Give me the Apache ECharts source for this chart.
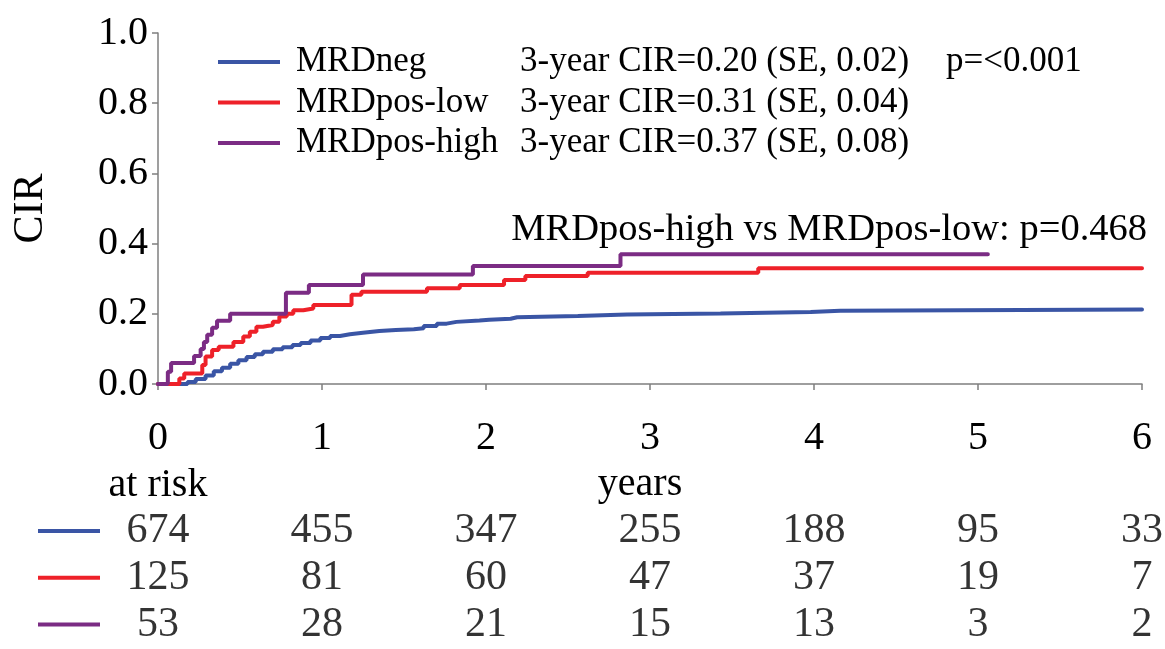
<!DOCTYPE html>
<html>
<head>
<meta charset="utf-8">
<script src="https://cdn.jsdelivr.net/npm/echarts@6/dist/echarts.min.js"></script>
<style>
  html, body { margin: 0; padding: 0; background: #ffffff; }
  #main { width: 1165px; height: 649px; }
</style>
</head>
<body>
<div id="main"></div>
<script>
// Cumulative incidence of relapse by MRD group (step curves: time in years, CIR after each event)
const groupNames = ['MRDneg', 'MRDpos-low', 'MRDpos-high'];
const groupColors = ['#3a55a5', '#ee2129', '#7b2c84'];
const summaryTexts = ['3-year CIR=0.20 (SE, 0.02)', '3-year CIR=0.31 (SE, 0.04)', '3-year CIR=0.37 (SE, 0.08)'];
const overallP = 'p=<0.001';
const pairwiseNote = 'MRDpos-high vs MRDpos-low: p=0.468';

const negTimes = [0, 0.13, 0.18, 0.23, 0.29, 0.34, 0.39, 0.44, 0.49, 0.54, 0.59, 0.64, 0.70, 0.76, 0.82, 0.87, 0.93, 0.99, 1.05, 1.11, 1.17, 1.25, 1.35, 1.45, 1.56, 1.62, 1.70, 1.76, 1.82, 1.96, 2.02, 2.15, 2.19, 2.56, 2.86, 3.43, 3.98, 4.16, 6.0];
const negCIR   = [0, 0, 0.006, 0.014, 0.024, 0.036, 0.046, 0.058, 0.068, 0.077, 0.085, 0.092, 0.099, 0.105, 0.111, 0.117, 0.124, 0.131, 0.137, 0.142, 0.146, 0.151, 0.154, 0.156, 0.159, 0.165, 0.172, 0.177, 0.181, 0.183, 0.186, 0.190, 0.194, 0.198, 0.201, 0.205, 0.209, 0.212, 0.212];

const lowTimes = [0, 0.13, 0.16, 0.27, 0.29, 0.33, 0.37, 0.46, 0.52, 0.56, 0.60, 0.64, 0.70, 0.74, 0.785, 0.825, 0.886, 0.947, 1.18, 1.24, 1.64, 1.84, 2.11, 2.24, 2.62, 3.66, 6.0];
const lowCIR   = [0, 0.016, 0.030, 0.054, 0.078, 0.097, 0.106, 0.120, 0.135, 0.149, 0.163, 0.168, 0.177, 0.192, 0.200, 0.210, 0.215, 0.225, 0.254, 0.263, 0.273, 0.282, 0.296, 0.308, 0.317, 0.330, 0.330];

const highTimes = [0, 0.06, 0.08, 0.22, 0.26, 0.28, 0.30, 0.33, 0.36, 0.44, 0.78, 0.92, 1.25, 1.92, 2.82, 5.06];
const highCIR   = [0, 0.035, 0.060, 0.080, 0.100, 0.120, 0.140, 0.160, 0.180, 0.200, 0.260, 0.282, 0.312, 0.336, 0.370, 0.370];

// Numbers at risk
const riskTimes = [0, 1, 2, 3, 4, 5, 6];
const riskNeg  = [674, 455, 347, 255, 188, 95, 33];
const riskLow  = [125, 81, 60, 47, 37, 19, 7];
const riskHigh = [53, 28, 21, 15, 13, 3, 2];

const xTicks = [0, 1, 2, 3, 4, 5, 6];
const yTicks = [0.0, 0.2, 0.4, 0.6, 0.8, 1.0];

const FONT = "'Liberation Serif', 'Times New Roman', serif";
const AXIS_GRAY = '#7f7f7f';

const curves = [
  [negTimes, negCIR],
  [lowTimes, lowCIR],
  [highTimes, highCIR]
];
const riskRows = [riskNeg, riskLow, riskHigh];

const lineSeries = curves.map(([t, v], i) => ({
  name: groupNames[i],
  type: 'line',
  xAxisIndex: 0,
  yAxisIndex: 0,
  step: 'end',
  showSymbol: false,
  symbol: 'none',
  data: t.map((x, k) => [x, v[k]]),
  lineStyle: { color: groupColors[i], width: 4, cap: 'round' },
  itemStyle: { color: groupColors[i] },
  z: 3 + i
}));

const riskSeries = riskRows.map((row, r) => ({
  name: 'risk-' + r,
  type: 'scatter',
  xAxisIndex: 1,
  yAxisIndex: 1,
  symbol: 'circle',
  symbolSize: 1,
  itemStyle: { color: 'rgba(0,0,0,0)' },
  data: riskTimes.map((t, k) => [t, r, row[k]]),
  label: {
    show: true,
    position: 'inside',
    formatter: p => String(p.value[2]),
    fontSize: 42,
    fontFamily: FONT,
    color: '#000'
  },
  silent: true
}));

const richToken = extra => Object.assign({ fontSize: 35, fontFamily: FONT, color: '#000', lineHeight: 38 }, extra);

const option = {
  animation: false,
  backgroundColor: '#ffffff',
  grid: [
    { left: 158, right: 23, top: 33, bottom: 265 },
    { left: 158, right: 23, top: 508, bottom: 1 }
  ],
  xAxis: [
    {
      gridIndex: 0,
      type: 'value',
      min: xTicks[0],
      max: xTicks[xTicks.length - 1],
      interval: 1,
      axisLine: { show: true, lineStyle: { color: AXIS_GRAY, width: 1.5 } },
      axisTick: { show: true, length: 6, lineStyle: { color: AXIS_GRAY, width: 1.5 } },
      splitLine: { show: false },
      axisLabel: { fontSize: 40, fontFamily: FONT, color: '#000', margin: 34 },
      name: 'years',
      nameLocation: 'middle',
      nameGap: 80,
      nameTextStyle: { fontSize: 40, fontFamily: FONT, color: '#000', padding: [0, 20, 0, 0] }
    },
    { gridIndex: 1, type: 'value', min: 0, max: 6, show: false }
  ],
  yAxis: [
    {
      gridIndex: 0,
      type: 'value',
      min: yTicks[0],
      max: yTicks[yTicks.length - 1],
      interval: 0.2,
      axisLine: { show: true, lineStyle: { color: AXIS_GRAY, width: 1.5 } },
      axisTick: { show: true, length: 6, lineStyle: { color: AXIS_GRAY, width: 1.5 } },
      splitLine: { show: false },
      axisLabel: { fontSize: 40, fontFamily: FONT, color: '#000', margin: 10, formatter: v => v.toFixed(1) },
      name: 'CIR',
      nameLocation: 'middle',
      nameRotate: 90,
      nameGap: 106,
      nameTextStyle: { fontSize: 42, fontFamily: FONT, color: '#000' }
    },
    { gridIndex: 1, type: 'category', data: [0, 1, 2], inverse: true, show: false }
  ],
  legend: {
    orient: 'vertical',
    left: 218,
    top: 43,
    padding: 0,
    itemWidth: 62,
    itemHeight: 4,
    itemGap: 2.5,
    icon: 'rect',
    selectedMode: false,
    data: groupNames,
    formatter: name => {
      const i = groupNames.indexOf(name);
      const p = i === 0 ? '{p|' + overallP + '}' : '';
      return '{n|' + name + '}{c|' + summaryTexts[i] + '}' + p;
    },
    textStyle: {
      fontSize: 35,
      lineHeight: 38,
      fontFamily: FONT,
      color: '#000',
      rich: {
        n: richToken({ width: 224, padding: [0, 0, 0, 11] }),
        c: richToken({ width: 426 }),
        p: richToken({})
      }
    }
  },
  graphic: [
    {
      type: 'text',
      right: 18,
      top: 210,
      style: { text: pairwiseNote, font: '38.5px ' + FONT, fill: '#000' }
    },
    {
      type: 'text',
      x: 158,
      y: 485,
      style: { text: 'at risk', font: '40px ' + FONT, fill: '#000', textAlign: 'center', textVerticalAlign: 'middle' }
    },
    ...groupColors.map((c, i) => ({
      type: 'line',
      shape: { x1: 38, y1: 531 + i * 46.7, x2: 100, y2: 531 + i * 46.7 },
      style: { stroke: c, lineWidth: 4 }
    }))
  ],
  series: [...lineSeries, ...riskSeries]
};

const chart = echarts.init(document.getElementById('main'), null, { renderer: 'canvas' });
chart.setOption(option);
</script>
</body>
</html>
